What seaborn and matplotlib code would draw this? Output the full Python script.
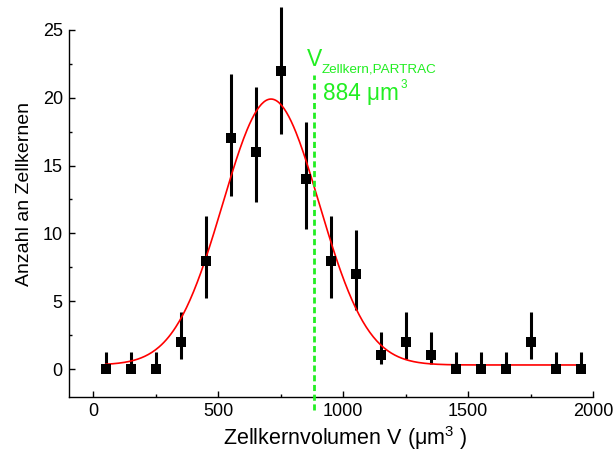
import numpy as np
import pandas as pd
import matplotlib
matplotlib.use("Agg")
import matplotlib.pyplot as plt
import seaborn as sns
from matplotlib.ticker import MultipleLocator

sns.set_style("ticks")
plt.rcParams['font.family'] = ['Liberation Sans', 'DejaVu Sans']
plt.rcParams['mathtext.fontset'] = 'custom'
plt.rcParams['mathtext.rm'] = 'Liberation Sans'
plt.rcParams['mathtext.it'] = 'Liberation Sans'
plt.rcParams['text.color'] = 'black'
plt.rcParams['axes.labelcolor'] = 'black'
plt.rcParams['xtick.color'] = 'black'
plt.rcParams['ytick.color'] = 'black'
plt.rcParams['axes.edgecolor'] = 'black'

# data
volume = [50, 150, 250, 350, 450, 550, 650, 750, 850, 950,
          1050, 1150, 1250, 1350, 1450, 1550, 1650, 1750, 1850, 1950]
count = [0, 0, 0, 2, 8, 17, 16, 22, 14, 8, 7, 1, 2, 1, 0, 0, 0, 2, 0, 0]
err_low = [0, 0, 0, 0.72, 5.26, 12.76, 12.3, 17.3, 10.3, 5.26,
           4.35, 0.37, 0.72, 0.37, 0, 0, 0, 0.72, 0, 0]
err_high = [1.23, 1.23, 1.23, 4.2, 11.28, 21.75, 20.77, 26.67, 18.24, 11.28,
            10.25, 2.7, 4.2, 2.7, 1.23, 1.23, 1.23, 4.2, 1.23, 1.23]

# gaussian fit parameters
fit_y0 = 0.3
fit_A = 19.6
fit_xc = 712
fit_sigma = 193
v_partrac = 884

green = '#22ee22'

df = pd.DataFrame({"V": volume, "N": count})
xf = np.linspace(50, 1950, 400)
fit = pd.DataFrame({"V": xf, "N": fit_y0 + fit_A * np.exp(-(xf - fit_xc) ** 2 / (2 * fit_sigma ** 2))})

fig = plt.figure(figsize=(6.14, 4.53), dpi=100)
ax = fig.add_axes([69 / 614, 1 - 397 / 453, (593 - 69) / 614, 397 / 453])

lo = np.array(count) - np.array(err_low)
hi = np.array(err_high) - np.array(count)
ax.errorbar(volume, count, yerr=[lo, hi], fmt='none', ecolor='black', elinewidth=2.2, capsize=0, zorder=2)
sns.lineplot(data=fit, x="V", y="N", color='red', lw=1.2, ax=ax, zorder=3)
sns.scatterplot(data=df, x="V", y="N", marker='s', s=52, color='black', edgecolor='black', linewidth=0, ax=ax, zorder=4)

ax.plot([v_partrac, v_partrac], [-3.0, 21.7], color=green, ls=(0, (2.2, 1.3)), lw=2, clip_on=False, zorder=5)
ax.text(856, 22.3, 'V', color=green, fontsize=16.5, ha='left', va='baseline')
ax.text(915, 21.85, 'Zellkern,PARTRAC', color=green, fontsize=9.7, ha='left', va='baseline')
ax.text(920, 19.84, '884 μm', color=green, fontsize=16.3, ha='left', va='baseline')
ax.text(1232, 20.7, '3', color=green, fontsize=8.5, ha='left', va='baseline')

ax.set_xlim(-96, 2000)
ax.set_ylim(-2.06, 27.2)
ax.spines['top'].set_visible(False)
ax.spines['right'].set_visible(False)
ax.spines['left'].set_bounds(-2.06, 25)
for s in ['left', 'bottom']:
    ax.spines[s].set_linewidth(1.0)
ax.xaxis.set_major_locator(MultipleLocator(500))
ax.xaxis.set_minor_locator(MultipleLocator(250))
ax.yaxis.set_minor_locator(MultipleLocator(2.5))
ax.set_yticks([0, 5, 10, 15, 20, 25])
ax.tick_params(which='major', direction='in', length=4.5, width=1.0, labelsize=13, pad=4.5)
ax.tick_params(which='minor', direction='in', length=2.5, width=1.0)
ax.set_xlabel(r'Zellkernvolumen V (μm$^{\mathregular{3}}$ )', fontsize=15.5)
ax.xaxis.set_label_coords((345 - 69) / 524, (397 - 445) / 397)
ax.xaxis.label.set_va('baseline')
ax.set_ylabel('Anzahl an Zellkernen', fontsize=14)
ax.yaxis.set_label_coords((33 - 69) / 524, (397 - 194) / 397)

fig.savefig('out.png', dpi=100)
